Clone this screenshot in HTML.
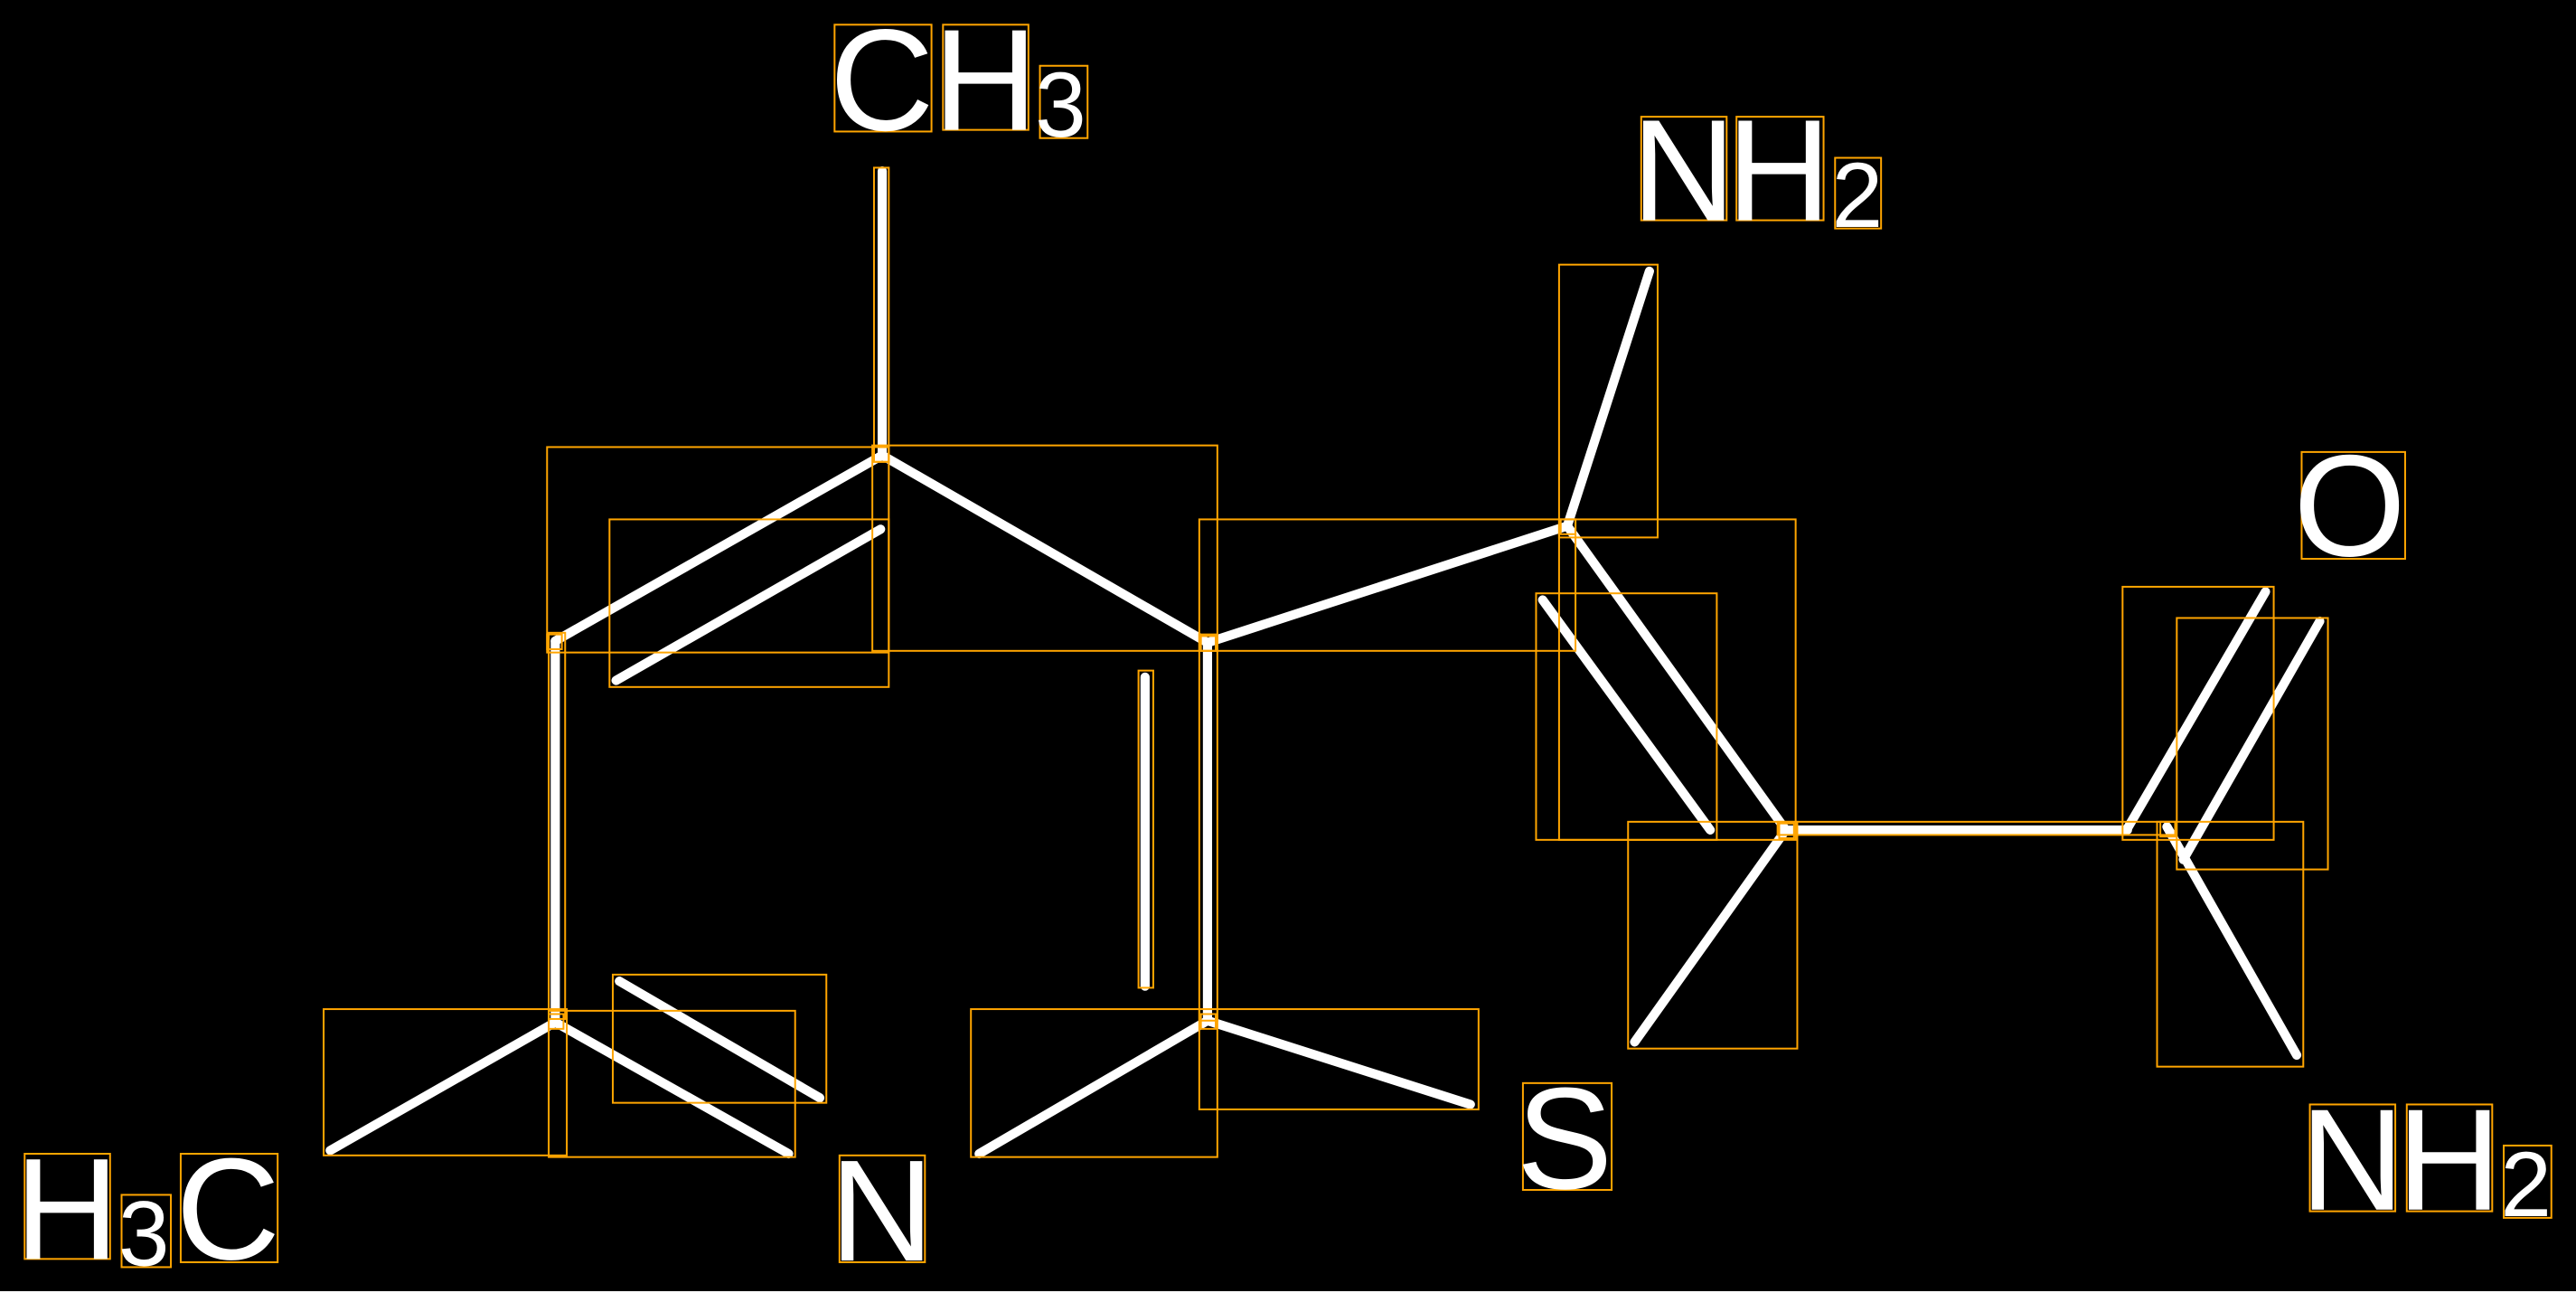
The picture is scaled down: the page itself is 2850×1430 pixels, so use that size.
<!DOCTYPE html>
<html><head><meta charset="utf-8"><style>
html,body{margin:0;padding:0;background:#000;overflow:hidden}
svg{display:block}
text{font-family:"Liberation Sans",sans-serif;fill:#fff}
</style></head><body>
<svg width="2850" height="1430" viewBox="0 0 1568 786.7" xmlns="http://www.w3.org/2000/svg">
<rect x="0" y="0" width="1568" height="787" fill="#000"/>
<rect x="0" y="785.6" width="1568" height="2" fill="#fff"/>
<g stroke="#fff" stroke-width="5.6" stroke-linecap="round">
<line x1="537" y1="104" x2="537" y2="277"/>
<line x1="537" y1="277" x2="338" y2="390"/>
<line x1="536" y1="322" x2="375" y2="414"/>
<line x1="537" y1="277" x2="735" y2="391"/>
<line x1="338" y1="390" x2="338" y2="622"/>
<line x1="735" y1="391" x2="735" y2="621"/>
<line x1="697" y1="412" x2="697" y2="600"/>
<line x1="338" y1="622" x2="201" y2="700"/>
<line x1="338" y1="622" x2="480" y2="702"/>
<line x1="377" y1="597" x2="499" y2="668"/>
<line x1="735" y1="621" x2="596" y2="702"/>
<line x1="735" y1="621" x2="895" y2="672"/>
<line x1="735" y1="391" x2="954" y2="320"/>
<line x1="954" y1="320" x2="1004" y2="165"/>
<line x1="954" y1="320" x2="1087" y2="505"/>
<line x1="939" y1="365" x2="1041" y2="505"/>
<line x1="1087" y1="505" x2="995" y2="634"/>
<line x1="1087" y1="505" x2="1295" y2="505"/>
<line x1="1295" y1="504" x2="1379" y2="360"/>
<line x1="1329" y1="523" x2="1412" y2="378"/>
<line x1="1319" y1="503" x2="1398" y2="642"/>
</g>
<g fill="none" stroke="#ffa500" stroke-width="1.1">
<rect x="333" y="272" width="208" height="125"/>
<rect x="371" y="316" width="170" height="102"/>
<rect x="531" y="271" width="210" height="125"/>
<rect x="730" y="316" width="229" height="80"/>
<rect x="949" y="161" width="60" height="166"/>
<rect x="949" y="316" width="144" height="195"/>
<rect x="935" y="361" width="110" height="150"/>
<rect x="991" y="500" width="103" height="138"/>
<rect x="1292" y="357" width="92" height="154"/>
<rect x="1325" y="376" width="92" height="153"/>
<rect x="1313" y="500" width="89" height="149"/>
<rect x="197" y="614" width="148" height="89"/>
<rect x="334" y="615" width="150" height="89"/>
<rect x="373" y="593" width="130" height="78"/>
<rect x="591" y="614" width="150" height="90"/>
<rect x="730" y="614" width="170" height="61"/>
<rect x="532" y="102" width="9" height="179"/>
<rect x="334" y="385" width="10" height="235"/>
<rect x="730" y="386" width="11" height="235"/>
<rect x="693" y="408" width="9" height="193"/>
<rect x="1082" y="500" width="242" height="8"/>
<rect x="508" y="15" width="59" height="65"/>
<rect x="574" y="15" width="52" height="64"/>
<rect x="633" y="40" width="29" height="44"/>
<rect x="999" y="71" width="52" height="63"/>
<rect x="1057" y="71" width="53" height="63"/>
<rect x="1117" y="96" width="28" height="43"/>
<rect x="1401" y="275" width="63" height="65"/>
<rect x="1406" y="672" width="52" height="65"/>
<rect x="1465" y="672" width="52" height="65"/>
<rect x="1524" y="697" width="29" height="44"/>
<rect x="927" y="659" width="54" height="65"/>
<rect x="511" y="703" width="52" height="65"/>
<rect x="15" y="702" width="52" height="64"/>
<rect x="74" y="727" width="30" height="44"/>
<rect x="110" y="702" width="59" height="66"/>
<rect x="333" y="386" width="9" height="9"/>
<rect x="532" y="272" width="9" height="9"/>
<rect x="731" y="387" width="9" height="9"/>
<rect x="950" y="316" width="9" height="9"/>
<rect x="1083" y="501" width="9" height="9"/>
<rect x="1315" y="500" width="9" height="9"/>
<rect x="334" y="617" width="9" height="9"/>
<rect x="731" y="617" width="9" height="9"/>
</g>
<g font-size="88">
<text x="505" y="79">C</text>
<text x="568" y="79">H</text>
<text x="630" y="83" font-size="56">3</text>
<text x="993" y="134">N</text>
<text x="1051" y="134">H</text>
<text x="1115" y="138" font-size="56">2</text>
<text x="1396" y="338">O</text>
<text x="1400" y="736">N</text>
<text x="1459" y="736">H</text>
<text x="1522" y="740" font-size="56">2</text>
<text x="923" y="723">S</text>
<text x="505" y="767">N</text>
<text x="9" y="766">H</text>
<text x="72" y="770" font-size="56">3</text>
<text x="107" y="766">C</text>
</g>
</svg>
</body></html>
